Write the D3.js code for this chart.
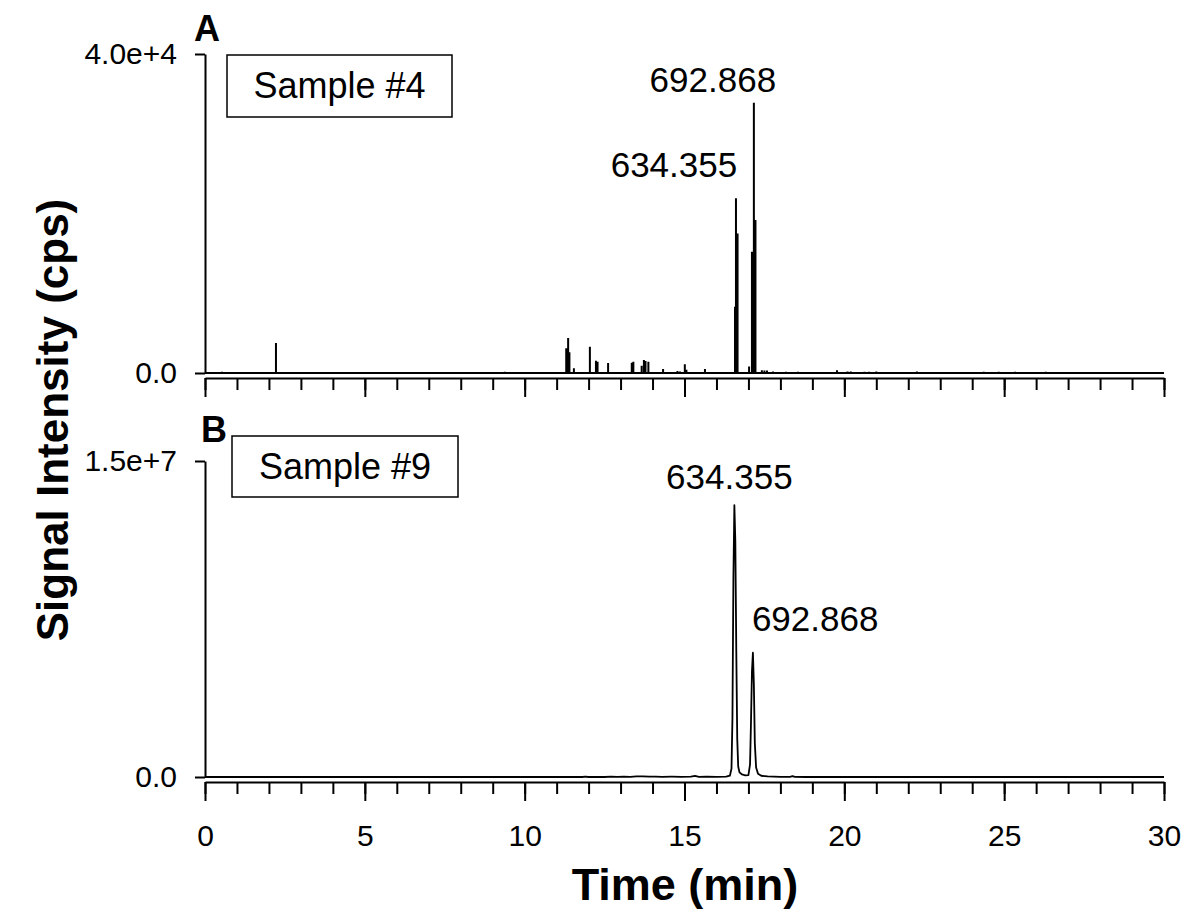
<!DOCTYPE html>
<html>
<head>
<meta charset="utf-8">
<script src="https://cdn.jsdelivr.net/npm/d3@7"></script>
<style>
  body { margin: 0; background: #fff; }
  text { font-family: "Liberation Sans", Arial, sans-serif; fill: #000; }
</style>
</head>
<body>
<div id="chart"></div>
<script>
// Panel A (sample #4): stick peaks, time (min) and intensity (cps)
const timesA = [0.53, 2.22, 9.30, 9.38, 9.45, 11.30, 11.36, 11.40, 11.54, 12.04, 12.23, 12.28,
    12.61, 13.35, 13.40, 13.66, 13.73, 13.78, 13.87, 14.33, 14.78, 14.86, 15.01, 15.06,
    15.64, 16.58, 16.61, 16.66, 17.02, 17.11, 17.17, 17.22, 17.42, 17.50, 17.58, 17.77,
    18.17, 18.55, 19.77, 20.10, 20.20, 20.63, 20.77, 21.00, 22.27, 24.36, 24.83, 25.34, 26.30];
const intensA = [150, 3760, 120, 150, 120, 3100, 4400, 2600, 600, 3300, 1540, 1400,
    1250, 1300, 1420, 900, 1630, 1500, 1420, 500, 250, 200, 1100, 400,
    500, 8300, 21900, 17500, 800, 15200, 33900, 19200, 350, 300, 300, 200,
    150, 150, 350, 200, 200, 150, 150, 200, 200, 150, 150, 150, 150];

// Panel B (sample #9): continuous trace
const timesB = [0, 11.8, 11.9, 12.0, 12.3, 12.5, 12.7, 12.9, 13.1, 13.3, 13.5, 13.7, 13.9,
    14.1, 14.3, 14.6, 14.9, 15.2, 15.33, 15.45, 15.7, 16.0, 16.3, 16.42, 16.47, 16.50,
    16.53, 16.56, 16.59, 16.62, 16.65, 16.68, 16.72, 16.80, 16.90, 17.00, 17.05, 17.08,
    17.11, 17.14, 17.17, 17.20, 17.24, 17.30, 17.40, 17.60, 18.0, 18.3, 18.38, 18.45, 18.8, 30];
const intensB = [0, 0, 15000, 0, 10000, 0, 15000, 5000, 20000, 10000, 25000, 30000, 15000,
    20000, 10000, 15000, 10000, 15000, 55000, 10000, 15000, 10000, 20000, 60000, 400000, 2.8e6,
    9.5e6, 12.9e6, 11.2e6, 6.0e6, 1.8e6, 500000, 220000, 120000, 80000, 90000, 600000, 2.6e6,
    5.0e6, 5.9e6, 4.4e6, 1.6e6, 450000, 150000, 60000, 25000, 10000, 10000, 40000, 5000, 0, 0];

const yMaxA = 4e4, yMaxB = 1.5e7;
const yTicksA = [0, 4e4], yTickLabelsA = ['0.0', '4.0e+4'];
const yTicksB = [0, 1.5e7], yTickLabelsB = ['0.0', '1.5e+7'];

// Peak annotations: [label, time, value]
const peakLabelsA = [['634.355', 16.61, 21900], ['692.868', 17.17, 33900]];
const peakLabelsB = [['634.355', 16.56, 12.9e6], ['692.868', 17.14, 5.9e6]];

const width = 1189, height = 922;

const svg = d3.select('#chart').append('svg')
    .attr('width', width)
    .attr('height', height);

svg.append('rect').attr('width', width).attr('height', height).attr('fill', '#fff');

const x = d3.scaleLinear().domain([0, 30]).range([205, 1164]);
const yA = d3.scaleLinear().domain([0, yMaxA]).range([373, 54]);
const yB = d3.scaleLinear().domain([0, yMaxB]).range([777, 461]);

function drawPanel(y, ticks, tickLabels, showXLabels) {
    const base = y(0);

    // minor ticks + axis line, offset a bit below the baseline
    const minor = svg.append('g')
        .attr('transform', `translate(0,${base + 5})`)
        .call(d3.axisBottom(x).tickValues(d3.range(0, 31, 1)).tickSize(12).tickSizeOuter(0).tickFormat(''));
    const major = svg.append('g')
        .attr('transform', `translate(0,${base + 5})`)
        .call(d3.axisBottom(x).tickValues(d3.range(0, 31, 5)).tickSize(19).tickSizeOuter(0)
            .tickPadding(24).tickFormat(showXLabels ? d3.format('d') : ''));
    major.select('.domain').remove();

    const yAxis = svg.append('g')
        .attr('transform', 'translate(205,0)')
        .call(d3.axisLeft(y).tickValues(ticks).tickSize(10).tickSizeOuter(0)
            .tickPadding(18).tickFormat((d, i) => tickLabels[i]));

    [minor, major, yAxis].forEach(g => {
        g.selectAll('line, path').attr('stroke', '#000').attr('stroke-width', 2);
        g.selectAll('text').style('font-size', '30px').attr('font-family', null);
    });
}

drawPanel(yA, yTicksA, yTickLabelsA, false);
drawPanel(yB, yTicksB, yTickLabelsB, true);

// Panel A trace: baseline with sticks
const pointsA = [[0, 0]];
timesA.forEach((t, i) => {
    pointsA.push([t, 0], [t, intensA[i]], [t, 0]);
});
pointsA.push([30, 0]);

svg.append('path')
    .datum(pointsA)
    .attr('fill', 'none')
    .attr('stroke', '#000')
    .attr('stroke-width', 2)
    .attr('d', d3.line().x(d => x(d[0])).y(d => yA(d[1])));

// Panel B trace
const pointsB = timesB.map((t, i) => [t, intensB[i]]);
svg.append('path')
    .datum(pointsB)
    .attr('fill', 'none')
    .attr('stroke', '#000')
    .attr('stroke-width', 1.8)
    .attr('stroke-linejoin', 'round')
    .attr('d', d3.line().x(d => x(d[0])).y(d => yB(d[1])));

// Peak labels
const labelOffsets = {
    A: [[-62, -21], [-41, -11]],
    B: [[-5, -16], [-1, -22]]
};
function peakText(labels, y, offs, anchors) {
    labels.forEach((p, i) => {
        svg.append('text')
            .attr('x', x(p[1]) + offs[i][0])
            .attr('y', y(p[2]) + offs[i][1])
            .attr('text-anchor', anchors[i])
            .style('font-size', '35px')
            .text(p[0]);
    });
}
peakText(peakLabelsA, yA, labelOffsets.A, ['middle', 'middle']);
peakText(peakLabelsB, yB, labelOffsets.B, ['middle', 'start']);

// Sample boxes
const boxes = [
    { label: 'Sample #4', x: 227, y: 55, w: 225, h: 62 },
    { label: 'Sample #9', x: 232, y: 436, w: 226, h: 61 }
];
boxes.forEach(b => {
    svg.append('rect')
        .attr('x', b.x).attr('y', b.y)
        .attr('width', b.w).attr('height', b.h)
        .attr('fill', 'none')
        .attr('stroke', '#000')
        .attr('stroke-width', 1.5);
    svg.append('text')
        .attr('x', b.x + b.w / 2)
        .attr('y', b.y + b.h / 2 + 12)
        .attr('text-anchor', 'middle')
        .style('font-size', '36px')
        .text(b.label);
});

// Panel letters
svg.append('text').attr('x', 194).attr('y', 41)
    .style('font-size', '36px').style('font-weight', 'bold').text('A');
svg.append('text').attr('x', 201).attr('y', 442)
    .style('font-size', '36px').style('font-weight', 'bold').text('B');

// Axis titles
svg.append('text')
    .attr('transform', 'translate(68,420) rotate(-90)')
    .attr('text-anchor', 'middle')
    .style('font-size', '44px')
    .style('font-weight', 'bold')
    .text('Signal Intensity (cps)');

svg.append('text')
    .attr('x', 685)
    .attr('y', 900)
    .attr('text-anchor', 'middle')
    .style('font-size', '45px')
    .style('font-weight', 'bold')
    .text('Time (min)');
</script>
</body>
</html>
